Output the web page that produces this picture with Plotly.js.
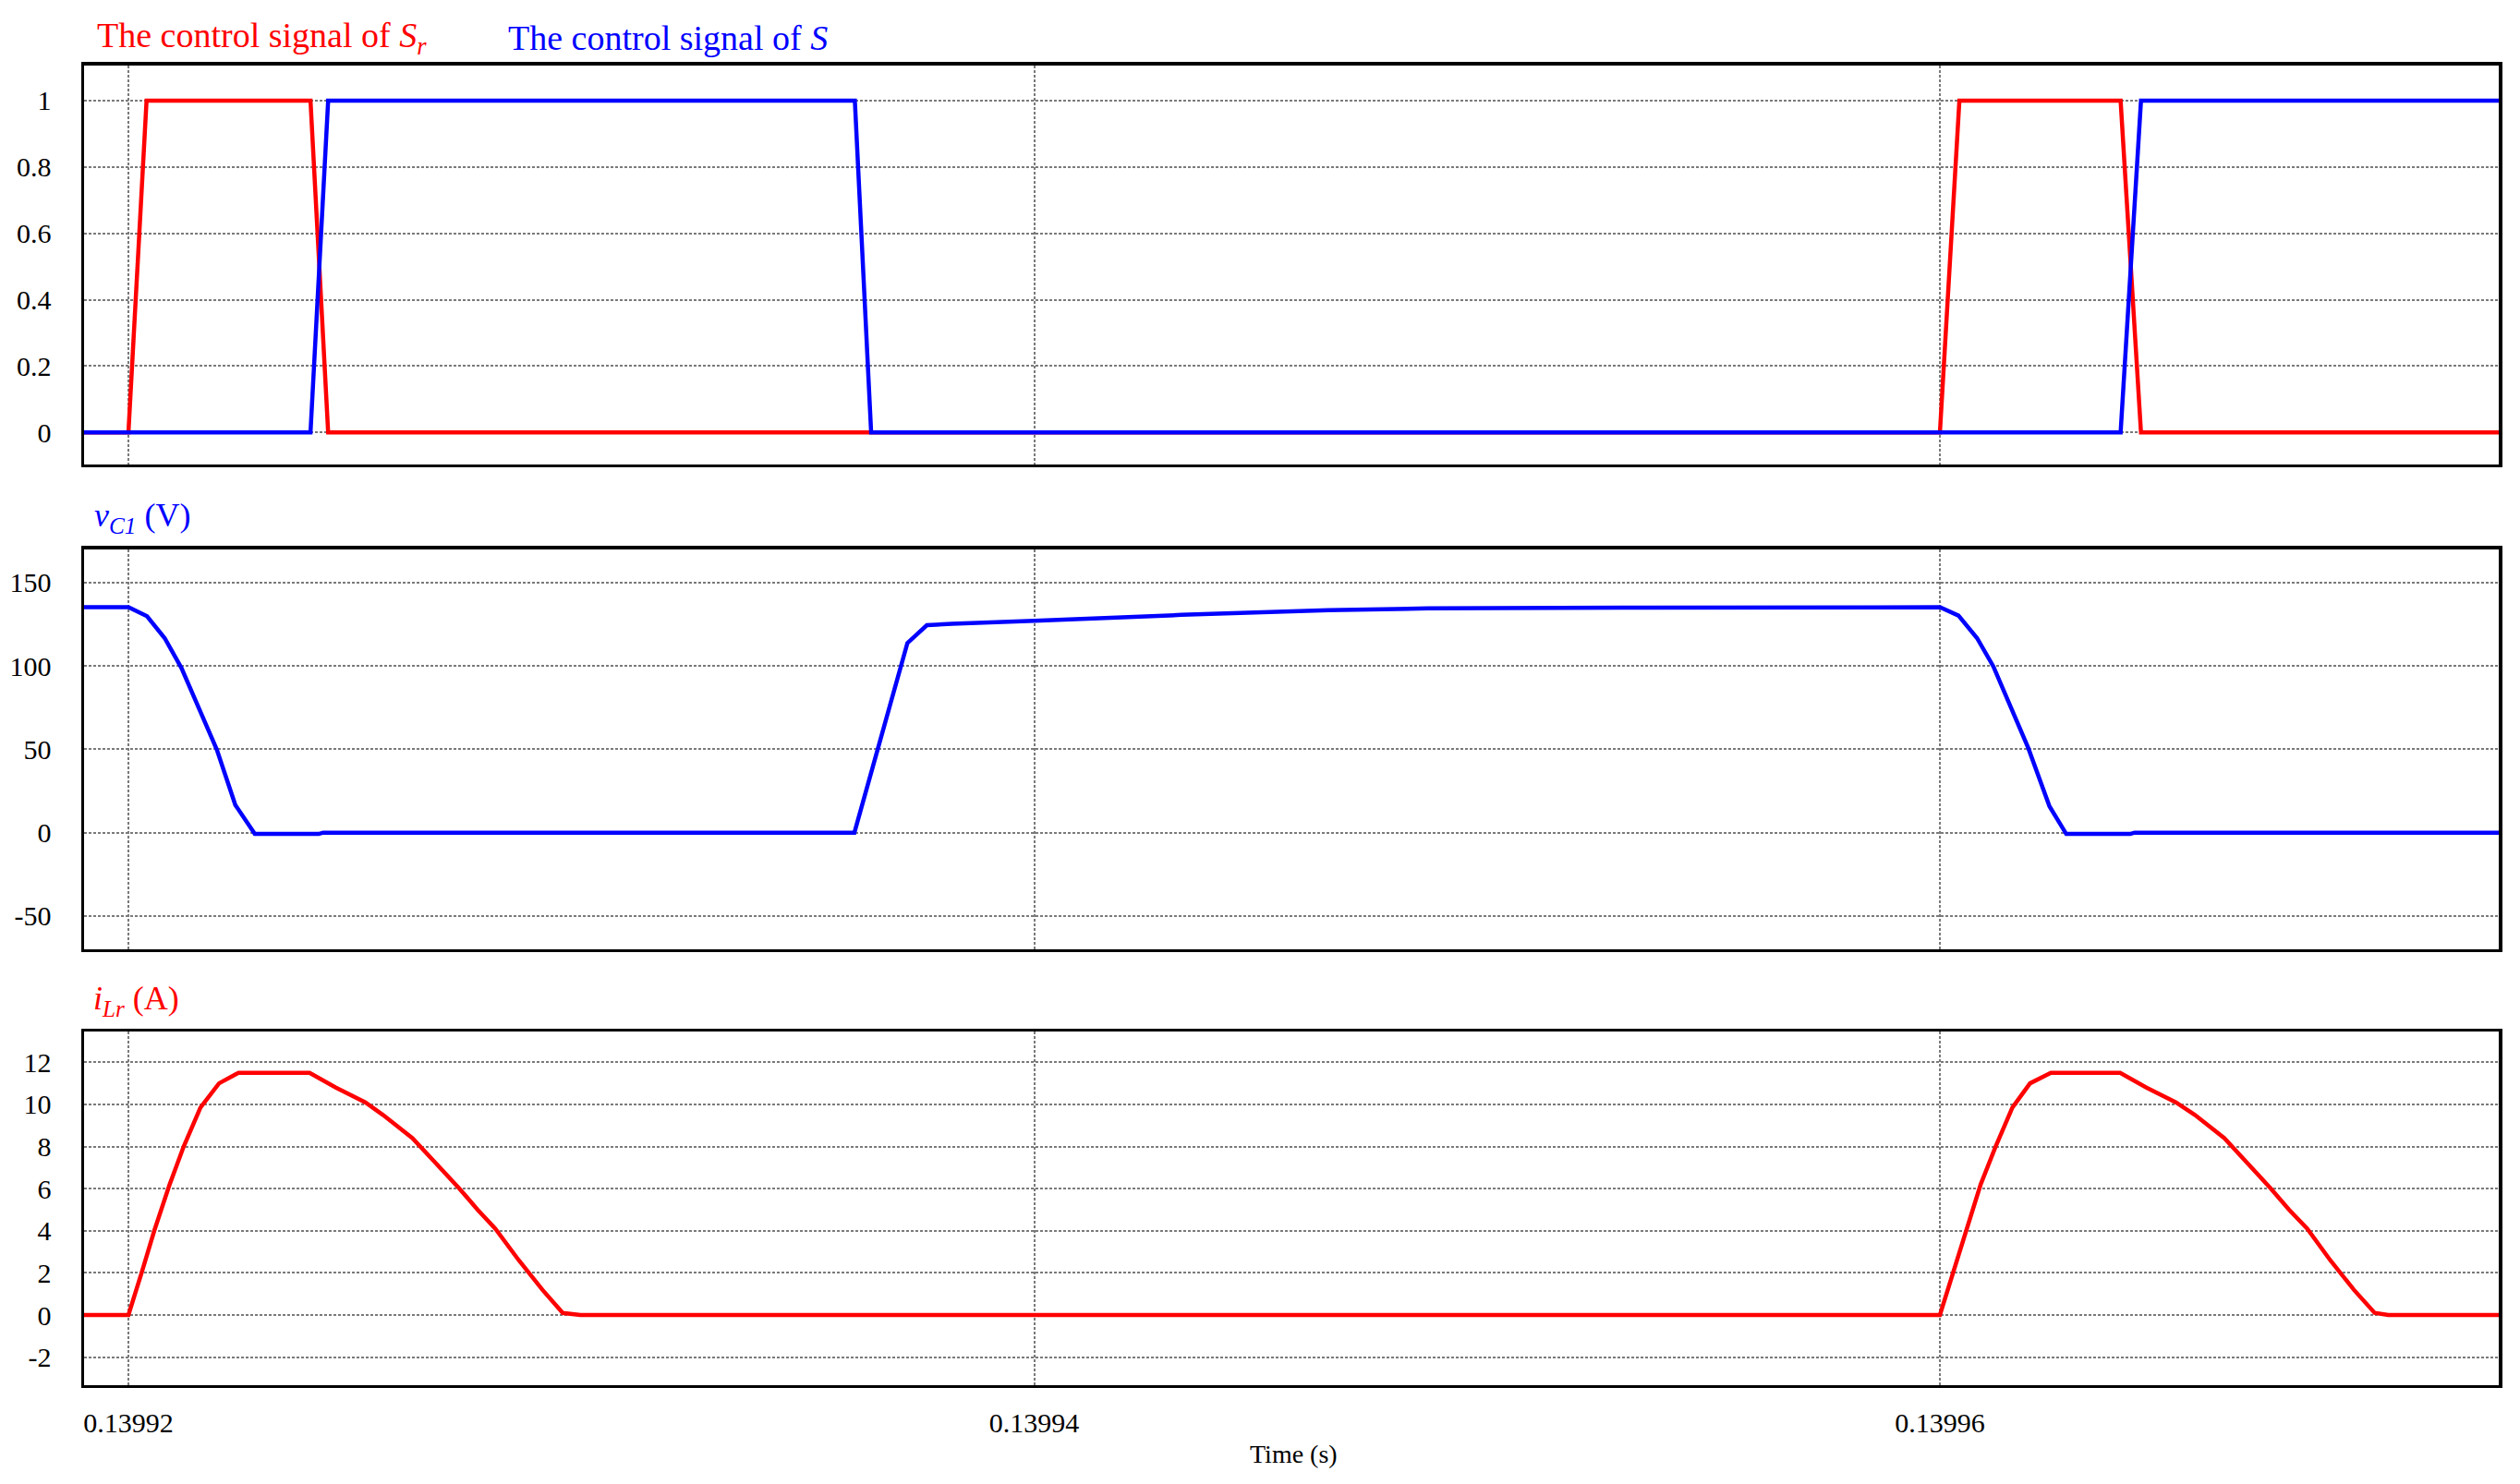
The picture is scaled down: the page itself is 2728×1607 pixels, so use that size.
<!DOCTYPE html>
<html>
<head>
<meta charset="utf-8">
<script src="https://cdn.plot.ly/plotly-3.0.1.min.js"></script>
<style>
  html, body { margin: 0; padding: 0; background: #fff; }
  #myDiv { width: 2728px; height: 1607px; }
</style>
</head>
<body>
<div id="myDiv"></div>
<script>
// control signals (0/1)
var srTime = [0.13991900, 0.13992000, 0.13992040, 0.13992402, 0.13992441,
              0.13996000, 0.13996043, 0.13996399, 0.13996444, 0.13997240];
var srValue = [0, 0, 1, 1, 0, 0, 1, 1, 0, 0];

var sTime = [0.13991900, 0.13992402, 0.13992441, 0.13993604, 0.13993640,
             0.13996399, 0.13996444, 0.13997240];
var sValue = [0, 0, 1, 1, 0, 0, 1, 1];

// capacitor voltage vC1 (V)
var vc1Time = [0.13991900, 0.13992000, 0.13992041, 0.13992080, 0.13992117, 0.13992158,
               0.13992195, 0.13992236, 0.13992279, 0.13992420, 0.13992430, 0.13993603,
               0.13993720, 0.13993763, 0.13993818, 0.13994000, 0.13994160, 0.13994325,
               0.13994650, 0.13994870, 0.13995300, 0.13996000, 0.13996041, 0.13996082,
               0.13996118, 0.13996158, 0.13996195, 0.13996242, 0.13996279, 0.13996420,
               0.13996430, 0.13997240];
var vc1Value = [135.2, 135.2, 129.8, 116.7, 98.8, 73.9,
                49.9, 16.6, -0.8, -0.8, 0, 0,
                113.7, 124.4, 125.3, 127.1, 129.0, 130.6,
                133.4, 134.5, 135.0, 135.2, 130.2, 116.7,
                99.7, 74.8, 50.8, 15.7, -0.8, -0.8,
                0, 0];

// resonant inductor current iLr (A)
var ilrTime = [0.13991900, 0.13992000, 0.13992029, 0.13992057, 0.13992091, 0.13992122,
               0.13992159, 0.13992200, 0.13992243, 0.13992400, 0.13992458, 0.13992523,
               0.13992562, 0.13992627, 0.13992679, 0.13992731, 0.13992771, 0.13992810,
               0.13992862, 0.13992914, 0.13992959, 0.13992998, 0.13996000, 0.13996029,
               0.13996058, 0.13996090, 0.13996123, 0.13996160, 0.13996199, 0.13996245,
               0.13996398, 0.13996456, 0.13996521, 0.13996563, 0.13996628, 0.13996680,
               0.13996731, 0.13996771, 0.13996811, 0.13996862, 0.13996914, 0.13996960,
               0.13996990, 0.13997240];
var ilrValue = [0, 0, 2.0, 4.0, 6.2, 8.0,
                9.85, 11.0, 11.5, 11.5, 10.8, 10.1,
                9.5, 8.4, 7.2, 6.0, 5.0, 4.1,
                2.6, 1.2, 0.1, 0, 0, 2.0,
                4.0, 6.2, 8.0, 9.85, 11.0, 11.5,
                11.5, 10.8, 10.1, 9.5, 8.4, 7.2,
                6.0, 5.0, 4.1, 2.6, 1.2, 0.1,
                0, 0];

var timeTicks = [0.13992, 0.13994, 0.13996];
var timeLabels = ['0.13992', '0.13994', '0.13996'];
var sigTicks = [0, 0.2, 0.4, 0.6, 0.8, 1];
var sigLabels = ['0', '0.2', '0.4', '0.6', '0.8', '1'];
var vTicks = [-50, 0, 50, 100, 150];
var vLabels = ['-50', '0', '50', '100', '150'];
var iTicks = [-2, 0, 2, 4, 6, 8, 10, 12];
var iLabels = ['-2', '0', '2', '4', '6', '8', '10', '12'];

var RED = '#ff0000', BLUE = '#0000ff';
var serif = 'Liberation Serif, Times New Roman, serif';

var data = [
  {x: srTime, y: srValue, xaxis: 'x', yaxis: 'y', type: 'scatter', mode: 'lines',
   line: {color: RED, width: 4.5}},
  {x: sTime, y: sValue, xaxis: 'x', yaxis: 'y', type: 'scatter', mode: 'lines',
   line: {color: BLUE, width: 4.5}},
  {x: vc1Time, y: vc1Value, xaxis: 'x2', yaxis: 'y2', type: 'scatter', mode: 'lines',
   line: {color: BLUE, width: 4.5}},
  {x: ilrTime, y: ilrValue, xaxis: 'x3', yaxis: 'y3', type: 'scatter', mode: 'lines',
   line: {color: RED, width: 4.5}}
];

function xAxis(showLabels) {
  return {
    domain: [0.03336, 0.99157],
    range: [0.13991902, 0.13997234],
    tickvals: timeTicks, ticktext: timeLabels,
    showticklabels: showLabels, ticks: '', ticklabelstandoff: 12,
    showgrid: true, gridcolor: '#7a7a7a', gridwidth: 2, griddash: '3px,2px',
    zeroline: false, showline: true, linecolor: '#000', linewidth: 3.5, mirror: true,
    tickfont: {family: serif, size: 30, color: '#000'}
  };
}

function yAxis(dom, rng, vals, labels) {
  return {
    domain: dom, range: rng, tickvals: vals, ticktext: labels,
    ticks: '', ticklabelstandoff: 26,
    showgrid: true, gridcolor: '#7a7a7a', gridwidth: 2, griddash: '3px,2px',
    zeroline: false, showline: true, linecolor: '#000', linewidth: 3.5, mirror: true,
    tickfont: {family: serif, size: 30, color: '#000'}
  };
}

var layout = {
  width: 2728, height: 1607,
  margin: {l: 0, r: 0, t: 0, b: 0},
  paper_bgcolor: '#fff', plot_bgcolor: '#fff',
  showlegend: false,
  xaxis: xAxis(false),
  xaxis2: Object.assign(xAxis(false), {anchor: 'y2', matches: 'x'}),
  xaxis3: Object.assign(xAxis(true), {anchor: 'y3', matches: 'x'}),
  yaxis: yAxis([0.6873, 0.9561], [-0.095, 1.107], sigTicks, sigLabels),
  yaxis2: Object.assign(yAxis([0.3603, 0.6299], [-70, 170], vTicks, vLabels), {anchor: 'x2'}),
  yaxis3: Object.assign(yAxis([0.0666, 0.3049], [-3.33, 13.46], iTicks, iLabels), {anchor: 'x3'}),
  annotations: [
    {text: 'The control signal of <i>S</i><sub><i>r</i></sub>', x: 0.0378, y: 0.9745,
     xref: 'paper', yref: 'paper', xanchor: 'left', yanchor: 'middle', showarrow: false,
     font: {family: serif, size: 38, color: RED}},
    {text: 'The control signal of <i>S</i>', x: 0.2010, y: 0.9745,
     xref: 'paper', yref: 'paper', xanchor: 'left', yanchor: 'middle', showarrow: false,
     font: {family: serif, size: 38, color: BLUE}},
    {text: '<i>v</i><sub><i>C1</i></sub> (V)', x: 0.0367, y: 0.6515,
     xref: 'paper', yref: 'paper', xanchor: 'left', yanchor: 'middle', showarrow: false,
     font: {family: serif, size: 36, color: BLUE}},
    {text: '<i>i</i><sub><i>Lr</i></sub> (A)', x: 0.0363, y: 0.3255,
     xref: 'paper', yref: 'paper', xanchor: 'left', yanchor: 'middle', showarrow: false,
     font: {family: serif, size: 36, color: RED}},
    {text: 'Time (s)', x: 0.5132, y: 0.0205,
     xref: 'paper', yref: 'paper', xanchor: 'center', yanchor: 'middle', showarrow: false,
     font: {family: serif, size: 28, color: '#000'}}
  ]
};

Plotly.newPlot('myDiv', data, layout, {displayModeBar: false, staticPlot: true});
</script>
</body>
</html>
